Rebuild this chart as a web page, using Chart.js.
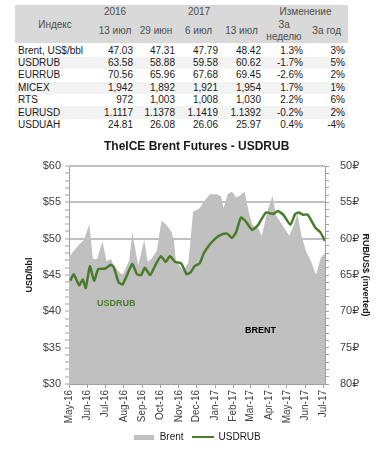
<!DOCTYPE html>
<html>
<head>
<meta charset="utf-8">
<script src="https://cdn.jsdelivr.net/npm/chart.js@4"></script>
<style>
  body { margin: 0; background: #fff; width: 381px; height: 456px; overflow: hidden; position: relative; font-family: 'Liberation Sans', Arial, sans-serif; }
  table { position: absolute; left: 15px; border-collapse: collapse; table-layout: fixed; font-size: 10px; }
  td, th { padding: 0 2px 0 0; white-space: nowrap; overflow: hidden; font-weight: normal; }
  #head { top: 5px; background: #d9d9d9; color: #4d4d4d; }
  #head th { text-align: center; padding: 0; }
  #head tr.r1 { height: 13px; }
  #head tr.r2 { height: 25px; }
  #head .two { line-height: 12px; }
  #body { top: 44.5px; color: #1a1a1a; }
  #body tr { height: 12.4px; }
  #body td { text-align: right; line-height: 12px; }
  #body td:first-child { text-align: left; padding-left: 3px; }
  #body td:last-child { padding-right: 3px; }
  #body tr.alt { background: #f3f3f3; }
  #chartBox { position: absolute; left: 0; top: 135px; width: 381px; height: 321px; }
</style>
</head>
<body>
<table id="head">
  <colgroup><col style="width:80px"><col style="width:40px"><col style="width:42px"><col style="width:43px"><col style="width:43px"><col style="width:42px"><col style="width:43px"></colgroup>
  <tr class="r1"><th rowspan="2">Индекс</th><th>2016</th><th colspan="3">2017</th><th colspan="2">Изменение</th></tr>
  <tr class="r2"><th>13 июл</th><th>29 июн</th><th>6 июл</th><th>13 июл</th><th class="two">За<br>неделю</th><th>За год</th></tr>
</table>
<table id="body">
  <colgroup><col style="width:80px"><col style="width:40px"><col style="width:42px"><col style="width:43px"><col style="width:43px"><col style="width:42px"><col style="width:43px"></colgroup>
  <tbody id="rows"></tbody>
</table>
<div id="chartBox"><canvas id="brent-chart"></canvas></div>

<script>
// table
const tableNames = ['Brent, US$/bbl', 'USDRUB', 'EURRUB', 'MICEX', 'RTS', 'EURUSD', 'USDUAH'];
const jul13_2016 = ['47.03', '63.58', '70.56', '1,942', '972', '1.1117', '24.81'];
const jun29_2017 = ['47.31', '58.88', '65.96', '1,892', '1,003', '1.1378', '26.08'];
const jul6_2017 = ['47.79', '59.58', '67.68', '1,921', '1,008', '1.1419', '26.06'];
const jul13_2017 = ['48.42', '60.62', '69.45', '1,954', '1,030', '1.1392', '25.97'];
const weekChange = ['1.3%', '-1.7%', '-2.6%', '1.7%', '2.2%', '-0.2%', '0.4%'];
const yearChange = ['3%', '5%', '2%', '1%', '6%', '2%', '-4%'];

// chart, x = days since 1 May 2016
const brentDays = [0, 8, 17, 25, 34, 40, 47, 56, 63, 70, 75, 84, 90, 101, 106, 116, 126, 132, 139, 147,
  155, 164, 172, 176, 179, 192, 200, 208, 219, 225, 236, 248, 255, 259, 266, 273, 280, 286, 294, 302,
  308, 316, 323, 333, 341, 347, 358, 369, 377, 383, 389, 397, 405, 414, 422, 429];
const brentValues = [47.5, 48.3, 49.2, 49.8, 52.0, 47.2, 47.2, 49.6, 46.9, 47.2, 46.3, 45.4, 45.0, 47.0, 50.9, 46.3, 49.8, 46.8, 47.3, 48.3,
  52.5, 51.8, 50.9, 49.7, 46.9, 45.6, 46.7, 53.7, 54.2, 55.0, 56.1, 56.1, 55.8, 54.2, 56.1, 56.5, 55.7, 55.9, 56.5, 53.4,
  51.8, 51.6, 50.4, 53.9, 55.9, 53.2, 51.8, 50.4, 51.9, 53.5, 50.6, 48.3, 47.0, 45.0, 47.4, 48.0];

const rubDays = [2, 8, 17, 23, 28, 35, 42, 49, 61, 70, 75, 83, 90, 106, 114, 121, 127, 136, 145, 154,
  162, 169, 178, 188, 197, 204, 211, 219, 226, 234, 245, 256, 265, 273, 280, 288, 295, 307, 317, 330,
  342, 350, 359, 371, 379, 385, 392, 400, 413, 421, 429];
const rubValues = [65.8, 64.9, 66.4, 65.6, 66.8, 63.8, 65.8, 64.2, 64.1, 63.6, 63.9, 66.0, 66.3, 63.5, 64.9, 65.0, 64.0, 65.0, 63.6, 62.4,
  63.2, 62.4, 63.2, 63.4, 64.9, 64.6, 63.75, 63.4, 62.0, 61.0, 60.0, 59.4, 59.3, 59.9, 59.1, 57.1, 57.5, 58.8, 58.1, 56.4,
  56.6, 56.2, 56.7, 58.1, 56.6, 56.4, 56.7, 56.7, 58.5, 59.1, 60.3];

const monthLabels = ['May-16', 'Jun-16', 'Jul-16', 'Aug-16', 'Sep-16', 'Oct-16', 'Nov-16', 'Dec-16',
  'Jan-17', 'Feb-17', 'Mar-17', 'Apr-17', 'May-17', 'Jun-17', 'Jul-17'];
const monthTicks = monthLabels.map((m, i) => (Date.UTC(2016, 4 + i, 1) - Date.UTC(2016, 4, 1)) / 864e5);

const usdrubLabelAt = [79, 41.1];
const brentLabelAt = [321, 37.3];

const GREEN = '#4a7b2b';
const GRAY = '#c0c0c0';
const TICK = '#404040';

const rowsEl = document.getElementById('rows');
for (let i = 0; i < tableNames.length; i++) {
  const tr = document.createElement('tr');
  if (i % 2 === 1) tr.className = 'alt';
  [tableNames[i], jul13_2016[i], jun29_2017[i], jul6_2017[i], jul13_2017[i], weekChange[i], yearChange[i]].forEach(t => {
    const td = document.createElement('td');
    td.textContent = t;
    tr.appendChild(td);
  });
  rowsEl.appendChild(tr);
}

function swatch(w, h, color) {
  const c = document.createElement('canvas');
  c.width = w; c.height = h;
  const g = c.getContext('2d');
  g.fillStyle = color;
  g.fillRect(0, 0, w, h);
  return c;
}

const chartLabels = {
  id: 'chartLabels',
  afterDatasetsDraw(chart) {
    const { ctx, scales } = chart;
    ctx.save();
    ctx.font = 'bold 9px "Liberation Sans", Arial, sans-serif';
    ctx.textAlign = 'center';
    ctx.textBaseline = 'middle';
    ctx.fillStyle = GREEN;
    ctx.fillText('USDRUB', scales.x.getPixelForValue(usdrubLabelAt[0]), scales.y.getPixelForValue(usdrubLabelAt[1]));
    ctx.fillStyle = '#000';
    ctx.fillText('BRENT', scales.x.getPixelForValue(brentLabelAt[0]), scales.y.getPixelForValue(brentLabelAt[1]));
    ctx.restore();
  }
};

const major = v => v % 5 === 0;

new Chart(document.getElementById('brent-chart').getContext('2d'), {
  type: 'line',
  data: {
    datasets: [{
      label: 'Brent',
      data: brentDays.map((d, i) => ({ x: d, y: brentValues[i] })),
      yAxisID: 'y',
      fill: 'start',
      backgroundColor: GRAY,
      borderWidth: 0,
      pointRadius: 0,
      pointStyle: swatch(20, 5, GRAY),
      order: 2
    }, {
      label: 'USDRUB',
      data: rubDays.map((d, i) => ({ x: d, y: rubValues[i] })),
      yAxisID: 'y2',
      fill: false,
      borderColor: GREEN,
      borderWidth: 2.5,
      pointRadius: 0,
      pointStyle: swatch(22, 2, GREEN),
      tension: 0.15,
      order: 1
    }]
  },
  options: {
    responsive: true,
    maintainAspectRatio: false,
    animation: false,
    layout: { padding: { left: 12.4, right: 0, top: 0, bottom: 4 } },
    plugins: {
      title: {
        display: true,
        text: 'TheICE Brent Futures - USDRUB',
        color: '#1a1a1a',
        font: { family: '"Liberation Sans", Arial', size: 12, weight: 'bold' },
        padding: { top: 4, bottom: 12.6 }
      },
      legend: {
        position: 'bottom',
        labels: {
          usePointStyle: true,
          pointStyleWidth: 22,
          padding: 8,
          color: '#1a1a1a',
          font: { family: '"Liberation Sans", Arial', size: 10 },
          sort: (a, b) => a.datasetIndex - b.datasetIndex
        }
      },
      tooltip: { enabled: false }
    },
    scales: {
      x: {
        type: 'linear',
        min: 0,
        max: 429,
        afterBuildTicks: s => { s.ticks = monthTicks.map(v => ({ value: v })); },
        afterFit: s => { s.height = 40; },
        ticks: {
          autoSkip: false,
          minRotation: 90,
          maxRotation: 90,
          padding: 2,
          color: TICK,
          font: { family: '"Liberation Sans", Arial', size: 10 },
          callback: (v, i) => monthLabels[i]
        },
        grid: { drawOnChartArea: false, tickLength: 4, tickColor: '#a0a0a0' },
        border: { color: '#a0a0a0' }
      },
      y: {
        position: 'left',
        min: 30,
        max: 60,
        afterFit: s => { s.width = 56.6; },
        ticks: {
          stepSize: 1,
          autoSkip: false,
          padding: 4,
          color: TICK,
          font: { family: '"Liberation Sans", Arial', size: 11 },
          callback: v => major(v) ? '$' + v : ''
        },
        grid: {
          color: c => major(c.tick.value) ? '#c0c0c0' : 'rgba(0,0,0,0)',
          lineWidth: 2,
          tickColor: '#a0a0a0',
          tickWidth: 1,
          tickLength: 4
        },
        border: { color: '#a0a0a0' },
        title: {
          display: true,
          text: 'USD/bbl',
          color: '#1a1a1a',
          font: { family: '"Liberation Sans", Arial', size: 9, weight: 'bold' },
          padding: { top: 12.2, bottom: 0 }
        }
      },
      y2: {
        position: 'right',
        reverse: true,
        min: 50,
        max: 80,
        afterFit: s => { s.width = 56; },
        ticks: {
          stepSize: 1,
          autoSkip: false,
          padding: 11,
          color: TICK,
          font: { family: '"Liberation Sans", "DejaVu Sans", Arial', size: 11 },
          callback: v => major(v) ? v + '₽' : ''
        },
        grid: { drawOnChartArea: false, tickColor: '#a0a0a0', tickWidth: 1, tickLength: 4 },
        border: { color: '#a0a0a0' },
        title: {
          display: true,
          text: 'RUB/US$ (inverted)',
          color: '#1a1a1a',
          font: { family: '"Liberation Sans", Arial', size: 9, weight: 'bold' },
          padding: { top: 10.6, bottom: 0 }
        }
      }
    }
  },
  plugins: [chartLabels]
});
</script>
</body>
</html>
